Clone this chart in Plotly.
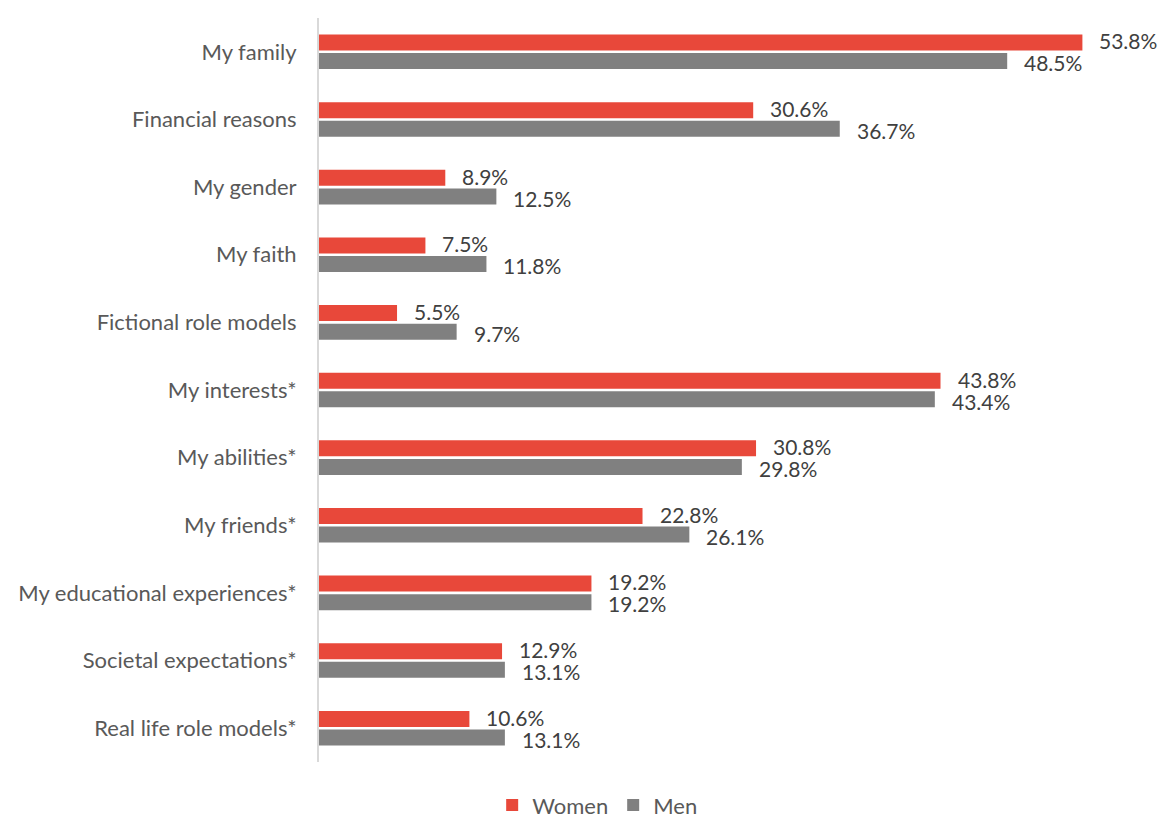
import plotly.graph_objects as go

# Reasons cited, top to bottom
categories = [
    "My family",
    "Financial reasons",
    "My gender",
    "My faith",
    "Fictional role models",
    "My interests*",
    "My abilities*",
    "My friends*",
    "My educational experiences*",
    "Societal expectations*",
    "Real life role models*",
]
women = [53.8, 30.6, 8.9, 7.5, 5.5, 43.8, 30.8, 22.8, 19.2, 12.9, 10.6]
men = [48.5, 36.7, 12.5, 11.8, 9.7, 43.4, 29.8, 26.1, 19.2, 13.1, 13.1]

WOMEN_COLOR = "#E8483A"
MEN_COLOR = "#808080"
FONT = "Lato"
SIZE = 22
VALUE_SIZE = 21

fig = go.Figure()
fig.add_trace(go.Bar(name="Women", y=categories, x=women, orientation="h",
                     marker=dict(color=WOMEN_COLOR, line=dict(width=0))))
fig.add_trace(go.Bar(name="Men", y=categories, x=men, orientation="h",
                     marker=dict(color=MEN_COLOR, line=dict(width=0))))

# Value labels just past the end of each bar
annotations = []
for cat, w, m in zip(categories, women, men):
    for val, shift in ((w, 11), (m, -11)):
        annotations.append(dict(
            x=val, y=cat, xref="x", yref="y",
            text=f"{val:.1f}%", showarrow=False,
            xanchor="left", yanchor="middle", xshift=15, yshift=shift,
            font=dict(family=FONT, size=VALUE_SIZE, color="#404040"),
        ))

fig.update_layout(
    width=1162, height=821,
    margin=dict(l=319, r=20, t=18, b=59, autoexpand=False),
    paper_bgcolor="white", plot_bgcolor="white",
    barmode="group", bargap=0.45, bargroupgap=0.14,
    font=dict(family=FONT, size=SIZE, color="#595959"),
    showlegend=True,
    legend=dict(orientation="h", x=0.338, xanchor="center",
                y=-0.058, yanchor="middle",
                font=dict(family=FONT, size=SIZE, color="#595959"),
                itemwidth=30, tracegroupgap=0),
    annotations=annotations,
)
fig.update_xaxes(range=[0, 58], showgrid=False, zeroline=False,
                 showticklabels=False, showline=False)
fig.update_yaxes(autorange="reversed", showgrid=False, zeroline=False,
                 showline=True, linecolor="#D9D9D9", linewidth=2,
                 ticks="", ticklabelstandoff=16,
                 tickfont=dict(family=FONT, size=SIZE, color="#595959"))

fig.write_html("out.html")
